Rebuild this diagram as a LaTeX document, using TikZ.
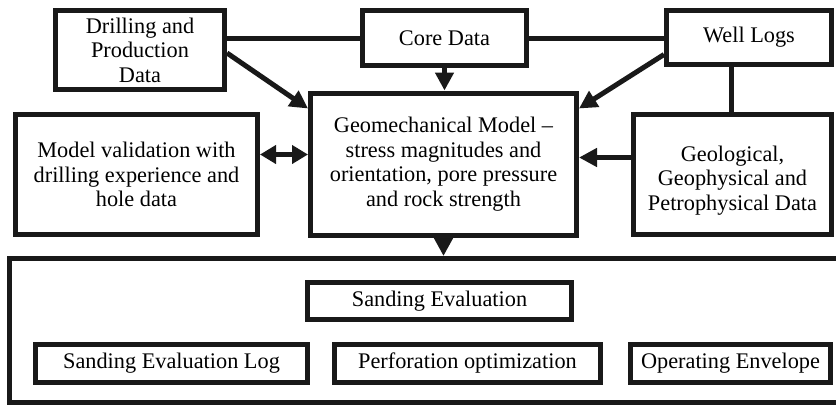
\documentclass[tikz,border=0pt]{standalone}
\usepackage{fontspec}
\setmainfont{Liberation Serif}
\usetikzlibrary{arrows.meta,calc}
\begin{document}
\begin{tikzpicture}[x=1pt,y=-1pt,
  txt/.style={inner sep=0pt,align=center,font=\fontsize{22.3}{24.5}\selectfont},
  box/.style={txt,draw=black!90,line width=5pt},
  link/.style={draw=black!90,line width=5pt},
  arr/.style={link,-{Triangle[length=18pt,width=18pt]}},
  darr/.style={link,{Triangle[length=16pt,width=18pt]}-{Triangle[length=16pt,width=18pt]}}]
\useasboundingbox (0,0) rectangle (836,408);
\fill[white] (0,0) rectangle (836,408);

% input data boxes
\node[box,minimum width=169pt,minimum height=79pt] (drill) at (140,50) {Drilling and\\Production\\Data};
\node[box,minimum width=164pt,minimum height=55pt] (core) at (444.5,38) {Core Data};
\node[box,minimum width=165pt,minimum height=54pt] (well) at (749,37.5) {Well Logs};

% model and side boxes
\node[box,minimum width=266pt,minimum height=142pt] (geo) at (443.5,164) {Geomechanical Model --\\stress magnitudes and\\orientation, pore pressure\\and rock strength};
\node[box,minimum width=242pt,minimum height=120pt] (valid) at (136.5,174.5) {Model validation with\\drilling experience and\\hole data};
\node[box,minimum width=198pt,minimum height=120pt] (geol) at (732.5,174.5) {};
\node[txt] (geoltext) at ($(geol.center)+(0,6)$) {Geological,\\Geophysical and\\Petrophysical Data};

% sanding evaluation frame
\node[box,minimum width=838pt,minimum height=144pt] (big) at (428.5,330.5) {};
\node[box,minimum width=264pt,minimum height=37pt] (sand) at (439.5,301) {Sanding Evaluation};
\node[box,minimum width=272pt,minimum height=38pt] (log) at (171.5,363.5) {Sanding Evaluation Log};
\node[box,minimum width=266pt,minimum height=38pt] (perf) at (467.5,363.5) {Perforation optimization};
\node[box,minimum width=200pt,minimum height=38pt] (env) at (730.5,363.5) {Operating Envelope};

% plain links
\draw[link] (core.west) -- (core.west -| drill.east);
\draw[link] (core.east) -- (core.east -| well.west);
\coordinate (wl) at ($(geol.north)+(-1.5,0)$);
\draw[link] (wl) -- (wl |- well.south);

% arrows into the model
\draw[arr] (core.south) -- (core.south |- geo.north);
\draw[arr] ($(drill.east)+(0,3)$) -- ($(geo.north west)+(0,18)$);
\draw[arr] ($(well.west)+(0,17)$) -- ($(geo.north east)+(0,18)$);
\coordinate (gin) at ($(geol.west)+(0,-17)$);
\draw[arr] (gin) -- (gin -| geo.east);
\coordinate (vin) at ($(valid.east)+(0,-20)$);
\draw[darr] (vin) -- (vin -| geo.west);
\draw[arr] (geo.south) -- (geo.south |- big.north);
\end{tikzpicture}
\end{document}
